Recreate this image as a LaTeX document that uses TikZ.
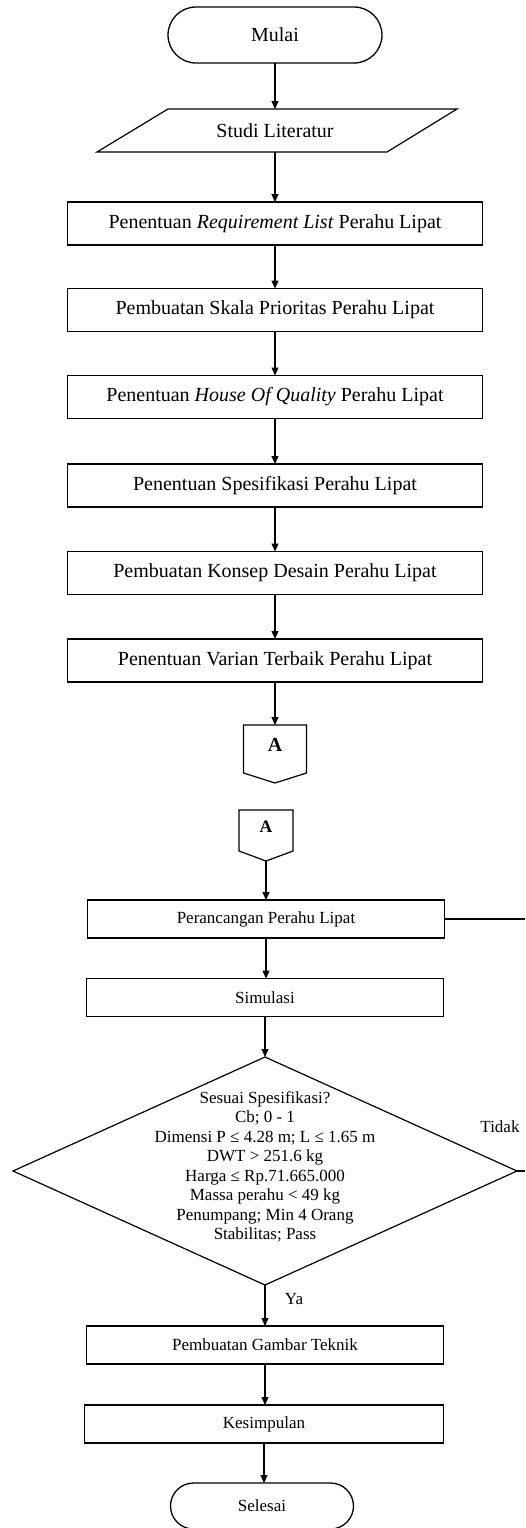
\documentclass[tikz,border=0pt]{standalone}
\usepackage{fontspec}
\setmainfont{Liberation Serif}
\usetikzlibrary{shapes.geometric,shapes.misc,arrows.meta,calc}
\begin{document}
\begin{tikzpicture}[x=1pt,y=-1pt,
  every node/.style={inner sep=0pt, outer sep=0pt},
  shapeline/.style={draw=black, line width=1.2pt, line join=miter},
  arr/.style={draw=black, line width=1.1pt, -{Triangle[width=7pt,length=8pt]}},
  plainline/.style={draw=black, line width=1.1pt},
  bigbox/.style={rectangle, draw=black, line width=1.3pt, minimum width=415pt, minimum height=43pt, font=\fontsize{20}{24}\selectfont},
  smallbox/.style={rectangle, draw=black, line width=1.2pt, minimum width=357pt, minimum height=38pt, font=\fontsize{17}{20}\selectfont},
  term/.style={rounded rectangle, draw=black, line width=1.3pt},
  bigtxt/.style={font=\fontsize{20}{24}\selectfont},
  smalltxt/.style={font=\fontsize{17}{20}\selectfont}
]
\useasboundingbox (0,0) rectangle (525,1528);

% ---------- upper part ----------
\node[term, minimum width=214pt, minimum height=56pt, bigtxt] (mulai) at (275,35) {Mulai};

\node[minimum width=290pt, minimum height=43pt, bigtxt] (studi) at (275,130.5) {Studi Literatur};
\draw[shapeline] ($(studi.center)+(-107,-21.5)$) -- ($(studi.center)+(182,-21.5)$)
  -- ($(studi.center)+(112,21.5)$) -- ($(studi.center)+(-178,21.5)$) -- cycle;

\node[bigbox] (r1) at (275,223.5) {Penentuan \textit{Requirement List} Perahu Lipat};
\node[bigbox] (r2) at (275,310) {Pembuatan Skala Prioritas Perahu Lipat};
\node[bigbox] (r3) at (275,397) {Penentuan \textit{House Of Quality} Perahu Lipat};
\node[bigbox] (r4) at (275,485.5) {Penentuan Spesifikasi Perahu Lipat};
\node[bigbox] (r5) at (275,573) {Pembuatan Konsep Desain Perahu Lipat};
\node[bigbox] (r6) at (275,660.5) {Penentuan Varian Terbaik Perahu Lipat};

\node[minimum width=63pt, minimum height=58pt] (A1) at (275,754) {};
\draw[shapeline] (A1.north west) -- (A1.north east) -- ($(A1.south east)+(0,-10)$)
  -- (A1.south) -- ($(A1.south west)+(0,-10)$) -- cycle;
\node[font=\fontsize{20}{24}\selectfont\bfseries] (a1t) at (275,745) {A};

\draw[arr] (mulai.south) -- (studi.north);
\draw[arr] (studi.south) -- (r1.north);
\draw[arr] (r1) -- (r2);
\draw[arr] (r2) -- (r3);
\draw[arr] (r3) -- (r4);
\draw[arr] (r4) -- (r5);
\draw[arr] (r5) -- (r6);
\draw[arr] (r6) -- (A1);

% ---------- lower part ----------
\node[minimum width=54pt, minimum height=51pt] (A2) at (266,835.5) {};
\draw[shapeline] (A2.north west) -- (A2.north east) -- ($(A2.south east)+(0,-10)$)
  -- (A2.south) -- ($(A2.south west)+(0,-10)$) -- cycle;
\node[font=\fontsize{17.5}{21}\selectfont\bfseries] (a2t) at (266,827) {A};

\node[smallbox] (per) at (266,919) {Perancangan Perahu Lipat};
\node[smallbox] (sim) at (265,997.5) {Simulasi};
\node[diamond, draw=black, line width=1.2pt, minimum width=504pt, minimum height=228pt] (dec) at (265,1171) {};
\node[align=center, font=\fontsize{17}{19.5}\selectfont] (dect) at (265,1167) {Sesuai Spesifikasi?\\Cb; 0 - 1\\Dimensi P ≤ 4.28 m; L ≤ 1.65 m\\DWT > 251.6 kg\\Harga ≤ Rp.71.665.000\\Massa perahu < 49 kg\\Penumpang; Min 4 Orang\\Stabilitas; Pass};
\node[smallbox] (gam) at (265,1345) {Pembuatan Gambar Teknik};
\node[smallbox, minimum width=359pt] (kes) at (264,1424) {Kesimpulan};
\node[term, minimum width=183pt, minimum height=46pt, smalltxt] (sel) at (262,1506) {Selesai};

\node[smalltxt] (tidak) at (500,1127) {Tidak};
\node[smalltxt] (ya) at (294,1299) {Ya};

\coordinate (fb1) at (525,919);
\coordinate (fb2) at (525,1171);

\draw[arr] (A2.south) -- (A2.south |- per.north);
\draw[arr] (per.south) -- (per.south |- sim.north);
\draw[arr] (sim.south) -- (dec.north);
\draw[arr] (dec.south) -- (dec.south |- gam.north);
\draw[arr] (gam.south) -- (gam.south |- kes.north);
\draw[arr] (kes.south) -- (kes.south |- sel.north);
\draw[plainline] (per.east) -- (fb1);
\draw[plainline] (dec.east) -- (fb2);
\end{tikzpicture}
\end{document}
